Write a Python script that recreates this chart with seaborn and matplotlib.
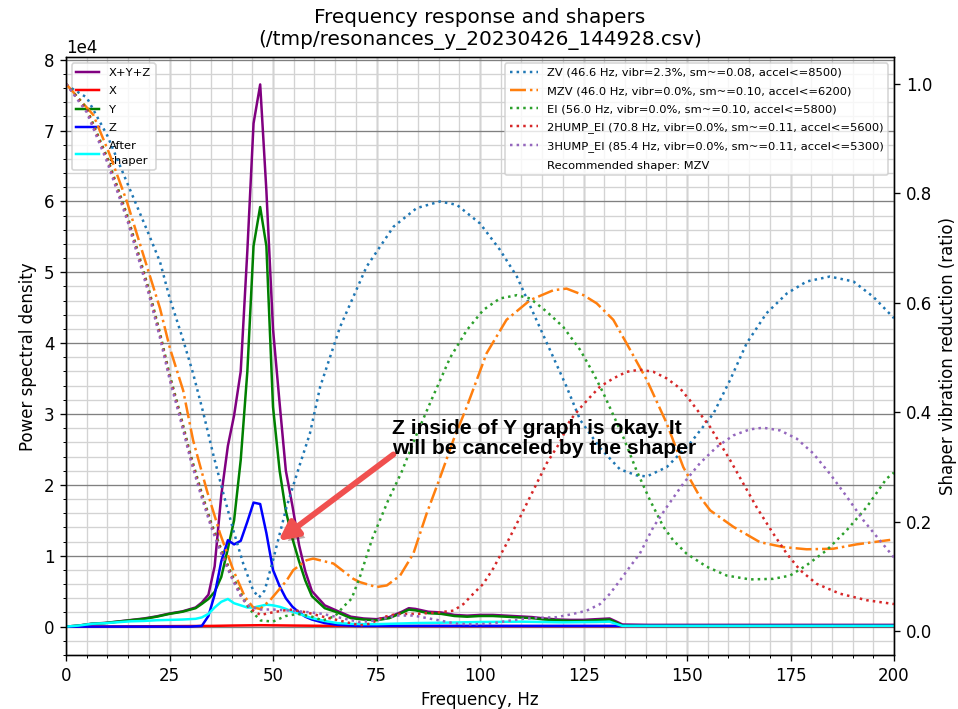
import matplotlib
matplotlib.use("Agg")
import matplotlib.pyplot as plt
import matplotlib.ticker as ticker
import matplotlib.patheffects as pe
import seaborn as sns

# ---- power spectral density (left axis) ----
psd_sum_freq = [0, 3.1, 6.3, 9.4, 12.5, 15.6, 18.8, 21.9, 25.0, 28.1, 31.3, 32.8, 34.4, 35.9,
                37.5, 39.1, 40.6, 42.2, 43.8, 45.3, 46.9, 48.4, 50.0, 51.6, 53.1, 54.7, 56.3,
                57.8, 59.4, 62.5, 65.6, 68.8, 71.9, 75.0, 78.1, 81.3, 82.8, 84.4, 87.5, 90.6,
                93.8, 96.9, 100.0, 103.1, 106.3, 109.4, 112.5, 115.6, 118.8, 121.9, 125.0,
                128.1, 131.3, 132.8, 134.4, 140.6, 160.0, 180.0, 200.0]
psd_sum = [0, 150, 420, 520, 720, 930, 1150, 1450, 1850, 2150, 2700, 3400, 4500, 8500,
           18500, 25500, 29800, 36000, 53000, 71000, 76500, 61500, 42000, 31500, 22000, 17000,
           11500, 7800, 5000, 3000, 2200, 1400, 1150, 1050, 1350, 2150, 2600, 2500, 2100, 2000,
           1650, 1550, 1650, 1650, 1550, 1450, 1350, 1150, 1000, 950, 950, 1050, 1150, 750,
           300, 250, 250, 250, 250]

psd_x_freq = [0, 20, 35, 40, 47, 55, 65, 80, 200]
psd_x = [0, 50, 100, 150, 200, 150, 100, 80, 50]

psd_y_freq = psd_sum_freq
psd_y = [0, 150, 400, 500, 700, 900, 1100, 1400, 1800, 2100, 2600, 3200, 3900, 4900,
         7000, 11000, 15000, 23500, 36000, 53700, 59200, 53700, 31000, 22000, 16300, 12400,
         9200, 6500, 4300, 2600, 2000, 1200, 1000, 900, 1200, 2000, 2400, 2300, 1900, 1800,
         1500, 1400, 1500, 1500, 1400, 1300, 1200, 1000, 900, 800, 800, 900, 1000, 600,
         150, 100, 100, 100, 100]

psd_z_freq = [0, 30.0, 32.8, 34.4, 35.9, 37.5, 39.1, 40.6, 42.2, 43.8, 45.3, 46.9, 48.4,
              50.0, 51.6, 53.1, 54.7, 56.3, 57.8, 59.4, 62.5, 65.6, 70.0, 200.0]
psd_z = [0, 0, 100, 1500, 4500, 9200, 12200, 11600, 12100, 14800, 17500, 17300, 13200,
         8000, 5700, 4000, 2800, 2000, 1400, 1000, 500, 250, 100, 100]

after_freq = [0, 3.1, 6.3, 9.4, 12.5, 15.6, 18.8, 21.9, 25.0, 28.1, 31.3, 32.8, 34.4, 35.9,
              37.5, 39.1, 40.6, 42.2, 43.8, 45.3, 46.9, 48.4, 50.0, 51.6, 53.1, 54.7, 56.3,
              57.8, 59.4, 62.5, 65.6, 68.8, 71.9, 75.0, 78.1, 81.3, 84.4, 90.6, 100.0, 110.0,
              120.0, 128.1, 131.3, 132.8, 134.4, 200.0]
after_shaper = [0, 150, 400, 480, 620, 750, 800, 900, 950, 1000, 1100, 1300, 1800, 2700,
                3500, 3900, 3300, 3000, 2700, 2700, 2900, 3100, 3000, 2800, 2500, 2100, 1800,
                1500, 1200, 800, 500, 400, 350, 350, 400, 450, 500, 550, 650, 700,
                600, 650, 700, 400, 100, 100]

# ---- shaper vibration reduction ratio (right axis) ----
zv_freq = [0, 5, 10, 15, 20, 22.7, 25, 28.3, 30.7, 33.2, 35.6, 38, 40.4, 42.8, 45.2, 46.6,
           48, 50.1, 53.3, 56.5, 58.9, 61.4, 66.2, 72.6, 79.1, 84.7, 90.3, 94.4, 100, 104.8,
           108.9, 112.9, 116.9, 120.9, 124.2, 129, 133.8, 137.8, 140.3, 145.1, 150.7, 156.4,
           160.4, 164.4, 169.2, 174.1, 178.9, 184.5, 190.2, 195, 200]
zv_vals = [0.998, 0.975, 0.905, 0.815, 0.725, 0.675, 0.61, 0.532, 0.471, 0.398, 0.322, 0.252,
           0.185, 0.124, 0.075, 0.062, 0.075, 0.133, 0.228, 0.305, 0.361, 0.447, 0.556, 0.666,
           0.739, 0.773, 0.785, 0.779, 0.745, 0.697, 0.648, 0.581, 0.514, 0.447, 0.386, 0.335,
           0.296, 0.285, 0.283, 0.30, 0.343, 0.398, 0.459, 0.526, 0.581, 0.617, 0.639, 0.648,
           0.639, 0.611, 0.572]

mzv_freq = [0, 6.6, 10.6, 14.7, 18.7, 22.7, 25.1, 28.3, 30.7, 34, 37.2, 40.4, 43.2, 45.2,
            46.9, 49.3, 53.3, 54.9, 58.1, 59.7, 64.6, 69.4, 71, 75, 77.5, 80.7, 83.9, 87.1,
            90.3, 93.6, 96.8, 101.6, 106.4, 112.1, 117.7, 120.9, 125, 128.2, 132.2, 135.4,
            140.3, 145.1, 149.1, 153.1, 155.6, 161.2, 167.6, 173.3, 178.9, 185.3, 191, 200]
mzv_vals = [1.0, 0.943, 0.87, 0.785, 0.687, 0.59, 0.517, 0.44, 0.349, 0.258, 0.179, 0.112,
            0.063, 0.044, 0.041, 0.057, 0.093, 0.112, 0.13, 0.133, 0.124, 0.096, 0.09, 0.081,
            0.084, 0.102, 0.142, 0.215, 0.28, 0.35, 0.41, 0.508, 0.569, 0.605, 0.623, 0.626,
            0.614, 0.599, 0.569, 0.526, 0.459, 0.38, 0.30, 0.246, 0.221, 0.191, 0.163, 0.154,
            0.15, 0.151, 0.159, 0.168]

ei_freq = [0, 5, 10, 15, 20, 22.7, 25, 27.5, 30, 32.5, 35, 37.5, 40, 42.5, 44.4, 47, 50, 53,
           56, 59, 62, 65, 67, 69, 71, 74, 77.8, 81, 84.7, 88.4, 92.8, 96.8, 100.8, 104.8,
           108.9, 112.1, 116.1, 120.1, 124.2, 127.4, 129.8, 132.2, 134.6, 137.8, 141.1, 144.3,
           146.7, 149.9, 154.8, 159.6, 165.2, 170.8, 174.9, 178.9, 183.7, 188.6, 193.4, 198.2,
           200]
ei_vals = [1.0, 0.955, 0.865, 0.755, 0.625, 0.545, 0.47, 0.4, 0.325, 0.26, 0.2, 0.15, 0.105,
           0.065, 0.04, 0.02, 0.018, 0.028, 0.032, 0.028, 0.02, 0.028, 0.045, 0.06, 0.1, 0.17,
           0.239, 0.29, 0.36, 0.425, 0.5, 0.55, 0.587, 0.608, 0.614, 0.608, 0.584, 0.556,
           0.514, 0.471, 0.435, 0.395, 0.355, 0.294, 0.239, 0.191, 0.166, 0.142, 0.118, 0.102,
           0.095, 0.096, 0.102, 0.121, 0.148, 0.185, 0.227, 0.279, 0.29]

hump2_freq = [0, 5, 10, 15, 20, 22.7, 25, 27.5, 30, 32.5, 35, 37.5, 40, 42.5, 44.4, 47, 50,
              54, 58, 62, 66, 71, 73.4, 76.6, 79.9, 84.7, 90.3, 93.6, 96, 98.4, 100.8, 103.2,
              106.4, 109.7, 112.9, 116.1, 119.3, 121.7, 124.2, 126.6, 129, 132.2, 135.4,
              138.6, 141.9, 145.1, 148.3, 150.7, 153.1, 155.6, 158, 160.4, 163.6, 166.8,
              170.8, 174.1, 177.3, 181.3, 186.9, 193.4, 200]
hump2_vals = [1.0, 0.952, 0.861, 0.751, 0.621, 0.541, 0.466, 0.396, 0.321, 0.256, 0.196,
              0.146, 0.101, 0.062, 0.042, 0.03, 0.035, 0.04, 0.035, 0.027, 0.02, 0.011, 0.014,
              0.026, 0.032, 0.032, 0.035, 0.038, 0.05, 0.069, 0.087, 0.115, 0.16, 0.209, 0.258,
              0.307, 0.345, 0.385, 0.408, 0.428, 0.447, 0.462, 0.474, 0.478, 0.474, 0.462,
              0.444, 0.422, 0.398, 0.373, 0.343, 0.313, 0.27, 0.227, 0.179, 0.142, 0.112,
              0.087, 0.069, 0.057, 0.05]

hump3_freq = [0, 5, 10, 15, 20, 22.7, 25, 27.5, 30, 32.5, 35, 37.5, 40, 42.5, 44.4, 47, 50,
              54.1, 58.9, 62, 66.2, 71, 75, 79.9, 83.9, 90.3, 94.4, 98.4, 102.4, 106.4, 110.5,
              114.5, 118.5, 122.5, 125.8, 129, 131.4, 133.8, 136.2, 138.6, 141.9, 145.1,
              149.1, 153.1, 157.2, 161.2, 165.2, 168.4, 172.5, 176.5, 180.5, 184.5, 188.6,
              192.6, 196.6, 200]
hump3_vals = [1.0, 0.948, 0.856, 0.746, 0.616, 0.536, 0.461, 0.391, 0.316, 0.251, 0.192,
              0.142, 0.098, 0.06, 0.045, 0.04, 0.04, 0.038, 0.035, 0.032, 0.025, 0.017, 0.02,
              0.029, 0.029, 0.02, 0.014, 0.013, 0.014, 0.019, 0.023, 0.025, 0.026, 0.032,
              0.038, 0.05, 0.069, 0.093, 0.118, 0.142, 0.191, 0.227, 0.27, 0.307, 0.337,
              0.358, 0.369, 0.372, 0.367, 0.352, 0.325, 0.288, 0.246, 0.203, 0.166, 0.135]

shaper_labels = [
    "ZV (46.6 Hz, vibr=2.3%, sm~=0.08, accel<=8500)",
    "MZV (46.0 Hz, vibr=0.0%, sm~=0.10, accel<=6200)",
    "EI (56.0 Hz, vibr=0.0%, sm~=0.10, accel<=5800)",
    "2HUMP_EI (70.8 Hz, vibr=0.0%, sm~=0.11, accel<=5600)",
    "3HUMP_EI (85.4 Hz, vibr=0.0%, sm~=0.11, accel<=5300)",
]
recommended = "MZV"

DPI = 119.75
fig = plt.figure(figsize=(958 / DPI, 709 / DPI), dpi=DPI)
ax = fig.add_axes([0.0689, 0.0762, 0.8643, 0.8427])

sns.lineplot(x=psd_sum_freq, y=psd_sum, ax=ax, color="purple", label="X+Y+Z", errorbar=None)
sns.lineplot(x=psd_x_freq, y=psd_x, ax=ax, color="red", label="X", errorbar=None)
sns.lineplot(x=psd_y_freq, y=psd_y, ax=ax, color="green", label="Y", errorbar=None)
sns.lineplot(x=psd_z_freq, y=psd_z, ax=ax, color="blue", label="Z", errorbar=None)

ax.set_xlabel("Frequency, Hz")
ax.set_xlim(0, 200)
ax.set_ylim(-4000, 80300)
ax.set_ylabel("Power spectral density")
ax.set_title("Frequency response and shapers\n(/tmp/resonances_y_20230426_144928.csv)",
             pad=7.8)
ax.xaxis.set_minor_locator(ticker.MultipleLocator(5))
ax.xaxis.remove_overlapping_locs = False
ax.yaxis.set_minor_locator(ticker.AutoMinorLocator())
ax.ticklabel_format(axis="y", style="scientific", scilimits=(0, 0))
ax.grid(which="major", color="grey")
ax.grid(which="minor", color="lightgrey")

ax2 = ax.twinx()
ax2.set_ylabel("Shaper vibration reduction (ratio)")
shaper_data = [(zv_freq, zv_vals), (mzv_freq, mzv_vals), (ei_freq, ei_vals),
               (hump2_freq, hump2_vals), (hump3_freq, hump3_vals)]
palette = sns.color_palette("tab10")
for i, ((fq, vals), lab) in enumerate(zip(shaper_data, shaper_labels)):
    style = "-." if lab.startswith(recommended + " ") else ":"
    sns.lineplot(x=fq, y=vals, ax=ax2, color=palette[i], linestyle=style,
                 label=lab, errorbar=None)

sns.lineplot(x=after_freq, y=after_shaper, ax=ax, color="cyan", label="After\nshaper",
             errorbar=None)
ax2.plot([], [], " ", label="Recommended shaper: %s" % recommended)
ax2.set_ylim(-0.043, 1.048)
ax2.set_xlim(0, 200)

leg1 = ax.legend(loc="upper left", fontsize="x-small", labelspacing=0.72)
for t in leg1.get_texts():
    t.set_linespacing(1.55)
ax2.legend(loc="upper right", fontsize="x-small", labelspacing=0.7, handlelength=2.4)

# hand-drawn style note with arrow pointing at the Z curve
shadow = [pe.SimplePatchShadow(offset=(2.5, -2.5), alpha=0.35), pe.Normal()]
ax2.annotate("", xy=(51.3, 12100), xytext=(79.1, 24300),
             xycoords=ax.transData, textcoords=ax.transData,
             arrowprops=dict(arrowstyle="-|>", color="#f0504f", lw=3.5,
                             mutation_scale=24, shrinkA=0, shrinkB=0,
                             path_effects=shadow),
             zorder=10)
ax2.text(78.7, 29300, "Z inside of Y graph is okay. It\nwill be canceled by the shaper",
         transform=ax.transData, fontsize=12.7, fontweight="bold",
         family=["Liberation Sans", "DejaVu Sans"], color="black",
         va="top", ha="left", linespacing=1.08, zorder=11)

fig.savefig("out.png", dpi=DPI)
